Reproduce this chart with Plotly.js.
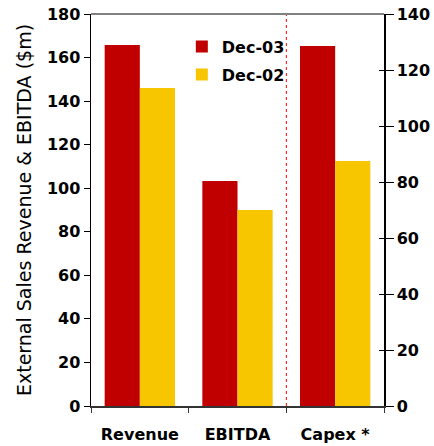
<!DOCTYPE html>
<html><head><meta charset="utf-8">
<script src="https://cdn.plot.ly/plotly-3.0.1.min.js"></script>
<style>html,body{margin:0;padding:0;background:#fff}#c{width:434px;height:446px}</style>
</head><body><div id="c"></div>
<script>
const categories = ["Revenue", "EBITDA", "Capex *"];
const leftCats = ["Revenue", "EBITDA"];
const rightCats = ["Capex *"];
const dec03Left = [165.8, 103.3];
const dec02Left = [146.0, 90.0];
const dec03Right = [128.6];
const dec02Right = [87.5];
const seriesNames = ["Dec-03", "Dec-02"];
const colors = ["#C00000", "#F8C600"];
const F = "DejaVu Sans, Verdana, sans-serif";

const bw = 0.36;
const traces = [
  {type:'bar', name:seriesNames[0], x:leftCats, y:dec03Left, width:bw, offset:-bw, marker:{color:colors[0]}, legendgroup:'a', yaxis:'y', hoverinfo:'none'},
  {type:'bar', name:seriesNames[1], x:leftCats, y:dec02Left, width:bw, offset:0, marker:{color:colors[1]}, legendgroup:'b', yaxis:'y', hoverinfo:'none'},
  {type:'bar', name:seriesNames[0], x:rightCats, y:dec03Right, width:bw, offset:-bw, marker:{color:colors[0]}, legendgroup:'a', showlegend:false, yaxis:'y2', hoverinfo:'none'},
  {type:'bar', name:seriesNames[1], x:rightCats, y:dec02Right, width:bw, offset:0, marker:{color:colors[1]}, legendgroup:'b', showlegend:false, yaxis:'y2', hoverinfo:'none'},
  {type:'scatter', x:[], y:[], yaxis:'y3', showlegend:false, hoverinfo:'none'}
];

const layout = {
  width:434, height:446,
  margin:{l:91, r:50, t:14, b:40},
  paper_bgcolor:'#fff', plot_bgcolor:'#fff',
  font:{family:F, size:16, color:'#000'},
  showlegend:true,
  legend:{x:0.31, xanchor:'left', y:0.96, yanchor:'top', bgcolor:'rgba(0,0,0,0)',
          font:{family:F, size:16, color:'#000', weight:'bold'}, tracegroupgap:4},
  xaxis:{type:'category', categoryarray:categories, categoryorder:'array', range:[-0.5,2.5],
         showline:true, linecolor:'#333', linewidth:2, ticks:'outside', ticklen:5, tickcolor:'#333',
         tickson:'boundaries', showgrid:false, zeroline:false, ticklabelstandoff:13,
         tickfont:{family:F, size:16, weight:'bold'}},
  yaxis:{range:[0,180], dtick:20, showline:true, linecolor:'#000', linewidth:1.5,
         ticks:'outside', ticklen:6, tickcolor:'#000', showgrid:false, zeroline:false,
         tickfont:{family:F, size:16, weight:'bold'},
         title:{text:'External Sales Revenue & EBITDA ($m)', font:{family:F, size:19}, standoff:10}},
  yaxis2:{range:[0,140], dtick:20, overlaying:'y', side:'right', showline:true, linecolor:'#000', linewidth:1.5,
          ticks:'outside', ticklen:8, tickcolor:'#000', showgrid:false, zeroline:false,
          tickfont:{family:F, size:16, weight:'bold'}},
  yaxis3:{range:[0,140], dtick:20, overlaying:'y', side:'right', showline:false,
          ticks:'inside', ticklen:5, tickcolor:'#000', showticklabels:false, showgrid:false, zeroline:false},
  shapes:[
    {type:'line', xref:'x', yref:'paper', x0:1.5, x1:1.5, y0:0, y1:1, line:{color:'#FF0000', width:1, dash:'dot'}},
    {type:'line', xref:'paper', yref:'paper', x0:0, x1:1, y0:1, y1:1, line:{color:'#808080', width:2}}
  ]
};
Plotly.newPlot('c', traces, layout, {displayModeBar:false, staticPlot:true});
</script></body></html>
